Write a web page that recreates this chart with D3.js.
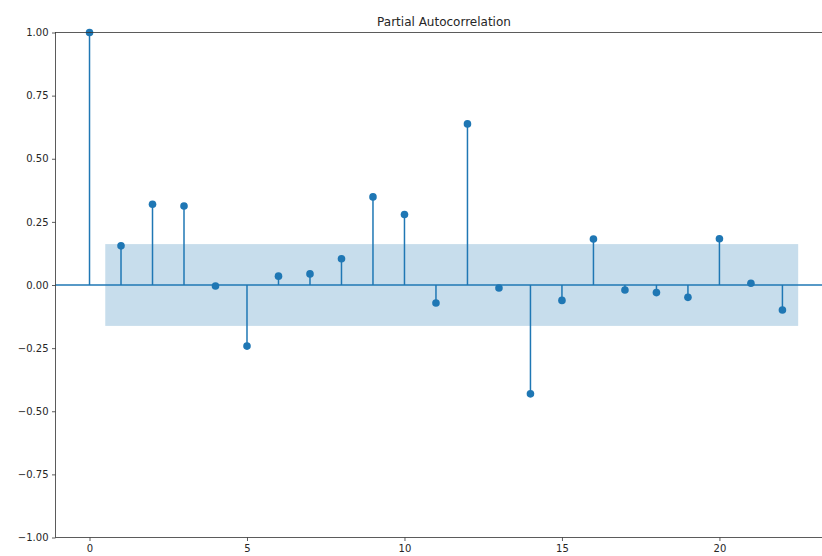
<!DOCTYPE html>
<html>
<head>
<meta charset="utf-8">
<title>Partial Autocorrelation</title>
<script src="https://d3js.org/d3.v7.min.js"></script>
<style>
  body { margin: 0; background: #fff; }
  svg { display: block; font-family: "DejaVu Sans", sans-serif; }
</style>
</head>
<body>
<script>
// lags and partial autocorrelation values
var lags = [0, 1, 2, 3, 4, 5, 6, 7, 8, 9, 10, 11, 12, 13, 14, 15, 16, 17, 18, 19, 20, 21, 22];
var pacf = [1.0, 0.155, 0.32, 0.313, -0.004, -0.242, 0.035, 0.044, 0.104, 0.349, 0.279,
            -0.071, 0.638, -0.012, -0.431, -0.061, 0.182, -0.02, -0.03, -0.049, 0.183, 0.007, -0.099];
// confidence band (from lag 0.5 to 22.5)
var confBand = [-0.162, 0.162];
var bandLags = [0.5, 22.5];
var xTicks = [0, 5, 10, 15, 20];
var yTicks = [-1, -0.75, -0.5, -0.25, 0, 0.25, 0.5, 0.75, 1];

var width = 822, height = 556;
var margin = {top: 32.5, left: 55.5, bottom: 18.5};
var plotRight = 832.5;

var svg = d3.select("body").append("svg")
    .attr("width", width)
    .attr("height", height);

var x = d3.scaleLinear()
    .domain([-1.08, 23.59])
    .range([margin.left, plotRight]);

var y = d3.scaleLinear()
    .domain([-1, 1])
    .range([height - margin.bottom, margin.top]);

var blue = "#1f77b4";

// confidence band
svg.append("rect")
    .attr("x", x(bandLags[0]))
    .attr("y", y(confBand[1]))
    .attr("width", x(bandLags[1]) - x(bandLags[0]))
    .attr("height", y(confBand[0]) - y(confBand[1]))
    .attr("fill", blue)
    .attr("fill-opacity", 0.25);

// zero line
svg.append("line")
    .attr("x1", x(-1.08)).attr("x2", plotRight)
    .attr("y1", y(0)).attr("y2", y(0))
    .attr("stroke", blue)
    .attr("stroke-width", 1.5);

// stems
svg.selectAll("line.stem")
    .data(lags)
    .enter()
    .append("line")
    .attr("class", "stem")
    .attr("x1", function(d) { return x(d); })
    .attr("x2", function(d) { return x(d); })
    .attr("y1", y(0))
    .attr("y2", function(d, i) { return y(pacf[i]); })
    .attr("stroke", blue)
    .attr("stroke-width", 1.5);

// markers
svg.selectAll("circle")
    .data(lags)
    .enter()
    .append("circle")
    .attr("cx", function(d) { return x(d); })
    .attr("cy", function(d, i) { return y(pacf[i]); })
    .attr("r", 3.8)
    .attr("fill", blue);

// axes
var fmtY = function(d) { return d3.format(".2f")(d).replace("-", "\u2212"); };

var yAxis = svg.append("g")
    .attr("transform", "translate(" + margin.left + ",0)")
    .call(d3.axisLeft(y).tickValues(yTicks).tickFormat(fmtY).tickSize(3.5).tickPadding(3.5));

var xAxis = svg.append("g")
    .attr("transform", "translate(0," + (height - margin.bottom) + ")")
    .call(d3.axisBottom(x).tickValues(xTicks).tickFormat(d3.format("d")).tickSize(3.5).tickPadding(3.5));

[xAxis, yAxis].forEach(function(a) {
    a.select(".domain").remove();
    a.selectAll("text").attr("font-size", 10).attr("fill", "#262626")
        .attr("font-family", "DejaVu Sans, sans-serif");
    a.selectAll("line").attr("stroke", "#333").attr("stroke-width", 0.8);
});

// spines
svg.append("rect")
    .attr("x", margin.left)
    .attr("y", margin.top)
    .attr("width", plotRight - margin.left)
    .attr("height", y(-1) - y(1))
    .attr("fill", "none")
    .attr("stroke", "#333")
    .attr("stroke-width", 0.8);

// title
svg.append("text")
    .attr("x", (margin.left + plotRight) / 2)
    .attr("y", margin.top - 7)
    .attr("text-anchor", "middle")
    .attr("font-size", 12)
    .attr("fill", "#262626")
    .text("Partial Autocorrelation");
</script>
</body>
</html>
